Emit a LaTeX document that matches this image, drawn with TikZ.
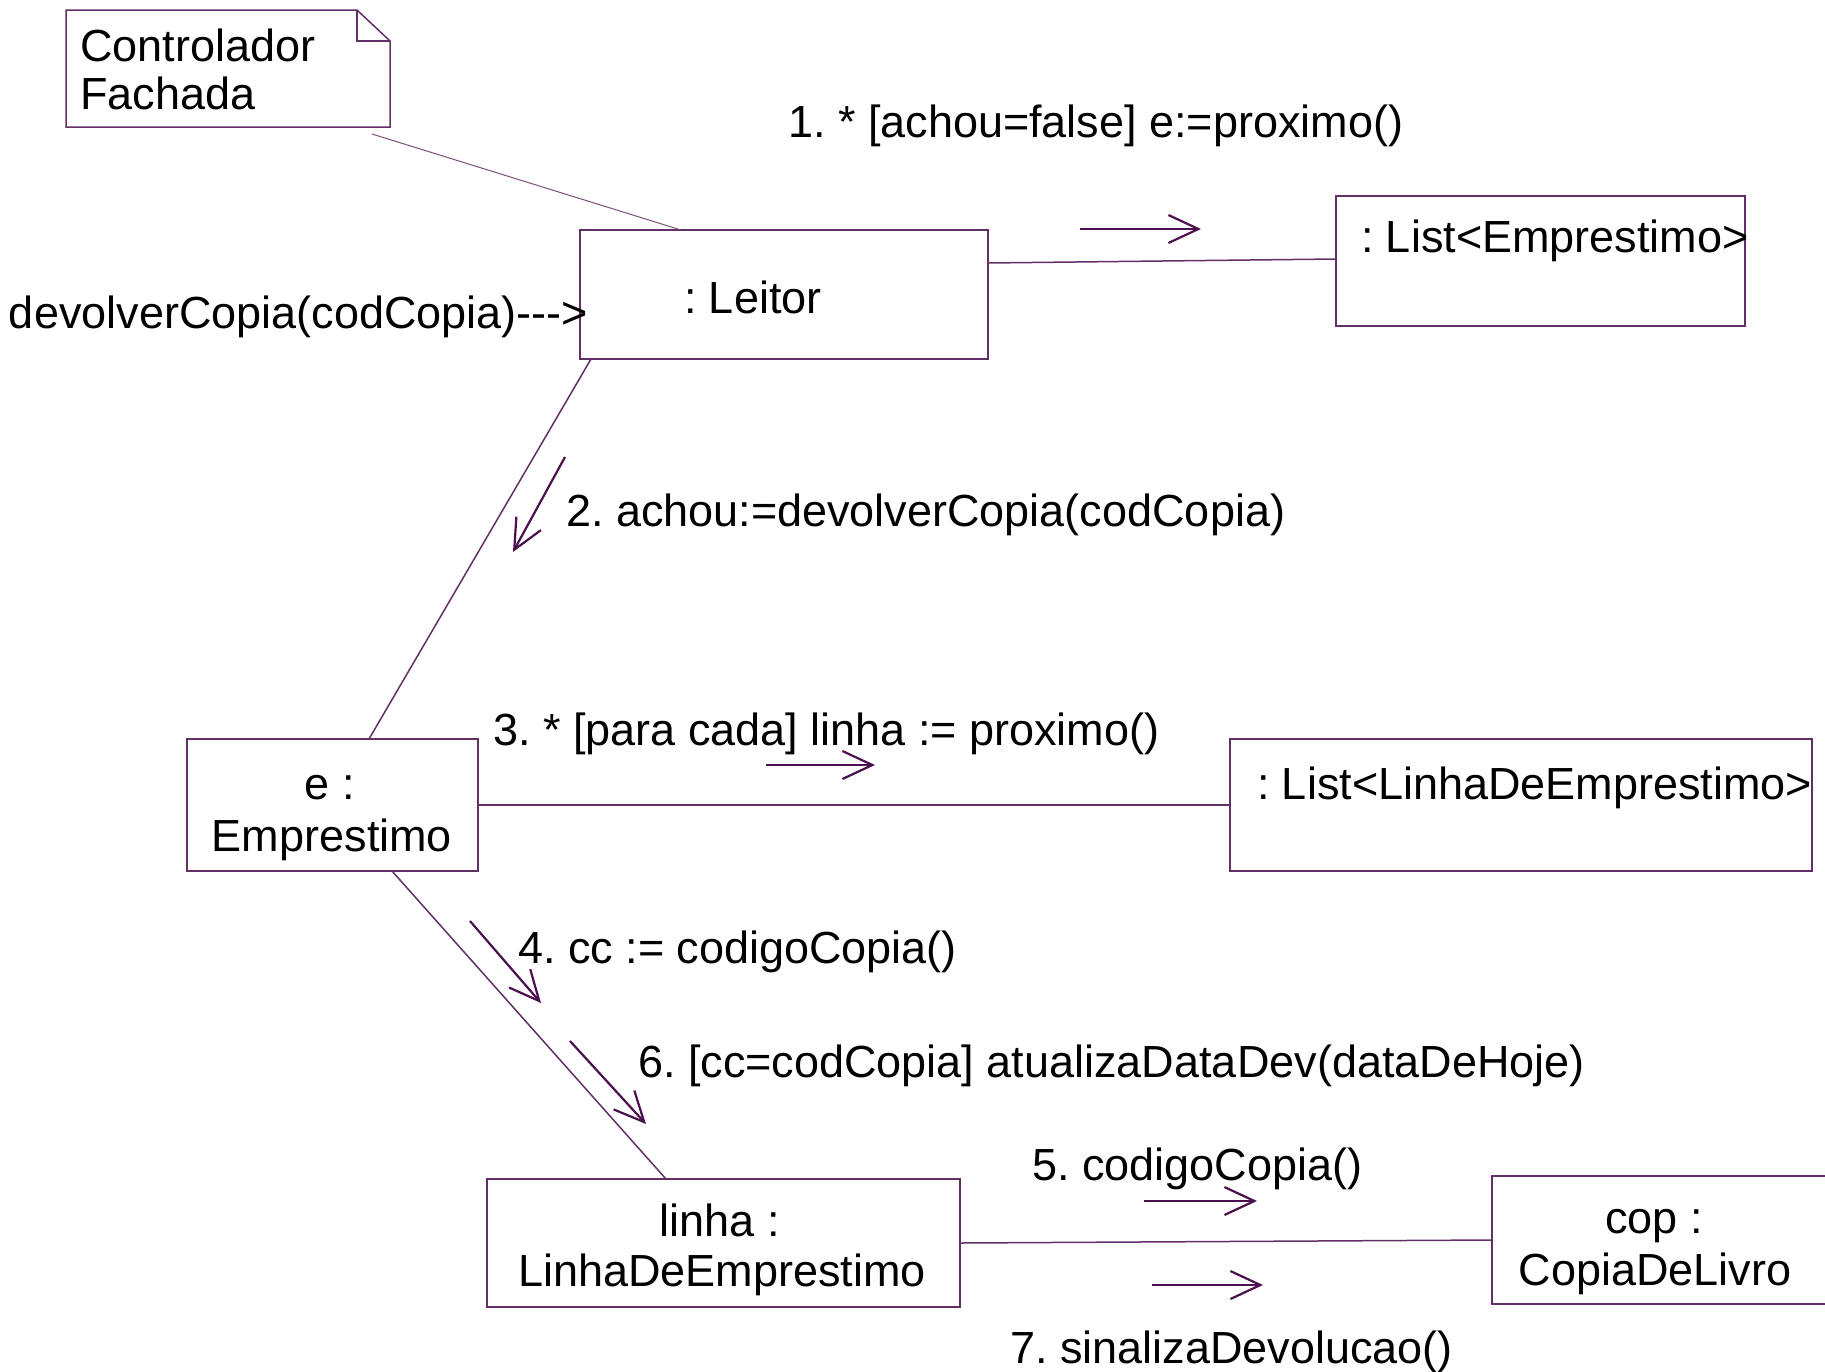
\documentclass[tikz,border=0pt]{standalone}
\usepackage{fontspec}
\setmainfont{Liberation Sans}
\usetikzlibrary{arrows.meta,calc}
\definecolor{umlline}{RGB}{98,48,100}
\definecolor{umlmsg}{RGB}{76,16,78}
\definecolor{umlnote}{RGB}{120,80,120}
\frenchspacing

\begin{document}
\begin{tikzpicture}[x=1pt,y=-1pt,
  obj/.style={draw=umlline, line width=1.5pt, inner sep=0pt, outer sep=0pt, rectangle},
  txt/.style={inner sep=0pt, outer sep=0pt, font=\fontsize{45}{52}\selectfont, text=black},
  link/.style={draw=umlline, line width=1.5pt},
  msg/.style={draw=umlmsg, line width=2.2pt, -{Straight Barb[length=30pt,width=28pt]}},
  notelink/.style={draw=umlnote, line width=1pt}]
\useasboundingbox (0,0) rectangle (1825,1371);

% note
\node[inner sep=0pt, outer sep=0pt, minimum width=324pt, minimum height=117pt] (note) at (228,68.5) {};
\draw[umlline, line width=1.5pt] (note.north west) -- ($(note.north east)+(-33,0)$)
  -- ($(note.north east)+(0,31)$) -- (note.south east) -- (note.south west) -- cycle;
\draw[umlline, line width=1.5pt] ($(note.north east)+(-33,0)$) -- ($(note.north east)+(-33,31)$)
  -- ($(note.north east)+(0,31)$);
\node[txt, anchor=base west] (noteA) at (80,61) {Controlador};
\node[txt, anchor=base west] (noteB) at (80,109) {Fachada};

% objects
\node[obj, minimum width=408pt, minimum height=129pt] (leitor) at (784,294.5) {};
\node[txt, anchor=base west] (leitorT) at (684,313) {: Leitor};

\node[obj, minimum width=409pt, minimum height=130pt] (lstE) at (1540.5,261) {};
\node[txt, anchor=base west] (lstET) at (1361,252) {: List<Emprestimo>};

\node[obj, minimum width=291pt, minimum height=132pt] (emp) at (332.5,805) {};
\node[txt, anchor=base] (empA) at (330,799) {e :};
\node[txt, anchor=base] (empB) at (332,851) {Emprestimo};

\node[obj, minimum width=582pt, minimum height=132pt] (lstL) at (1521,805) {};
\node[txt, anchor=base west] (lstLT) at (1257,799) {: List<LinhaDeEmprestimo>};

\node[obj, minimum width=473pt, minimum height=128pt] (linha) at (723.5,1243) {};
\node[txt, anchor=base] (linhaA) at (720,1236) {linha :};
\node[txt, anchor=base] (linhaB) at (722,1286) {LinhaDeEmprestimo};

\node[obj, minimum width=340pt, minimum height=128pt] (cop) at (1662,1240) {};
\node[txt, anchor=base] (copA) at (1654,1233) {cop :};
\node[txt, anchor=base] (copB) at (1655,1285) {CopiaDeLivro};

% incoming call
\node[txt, anchor=base west] (entry) at (9,328) {devolverCopia(codCopia)-{}-{}->};

% links
\draw[notelink] ($(note.south east)+(-18,7)$) -- ($(leitor.north west)+(101,0)$);
\draw[link] ($(leitor.north east)+(0,33)$) -- ($(lstE.north west)+(0,63)$);
\draw[link] ($(leitor.south west)+(11,0)$) -- ($(emp.north west)+(182,0)$);
\draw[link] (emp.east) -- (lstL.west);
\draw[link] ($(emp.south west)+(205,0)$) -- ($(linha.north west)+(179,0)$);
\draw[link] (linha.east) -- (cop.west);

% messages
\coordinate (m1a) at (1080,229);  \coordinate (m1b) at (1201,229);
\coordinate (m2a) at (565,457);   \coordinate (m2b) at (513,552);
\coordinate (m3a) at (766,765);   \coordinate (m3b) at (875,765);
\coordinate (m4a) at (470,921);   \coordinate (m4b) at (541,1003);
\coordinate (m6a) at (570,1041);  \coordinate (m6b) at (646,1124);
\coordinate (m5a) at (1144,1201); \coordinate (m5b) at (1257,1201);
\coordinate (m7a) at (1152,1285); \coordinate (m7b) at (1263,1285);
\draw[msg] (m1a) -- (m1b);
\draw[msg] (m2a) -- (m2b);
\draw[msg] (m3a) -- (m3b);
\draw[msg] (m4a) -- (m4b);
\draw[msg] (m6a) -- (m6b);
\draw[msg] (m5a) -- (m5b);
\draw[msg] (m7a) -- (m7b);

\node[txt, anchor=base west] (l1) at (788,137) {1. * [achou=false] e:=proximo()};
\node[txt, anchor=base west] (l2) at (566,526) {2. achou:=devolverCopia(codCopia)};
\node[txt, anchor=base west] (l3) at (493,745) {3. * [para cada] linha := proximo()};
\node[txt, anchor=base west] (l4) at (518,963) {4. cc := codigoCopia()};
\node[txt, anchor=base west] (l6) at (638,1077) {6. [cc=codCopia] atualizaDataDev(dataDeHoje)};
\node[txt, anchor=base west] (l5) at (1032,1180) {5. codigoCopia()};
\node[txt, anchor=base west] (l7) at (1010,1363) {7. sinalizaDevolucao()};
\end{tikzpicture}
\end{document}
